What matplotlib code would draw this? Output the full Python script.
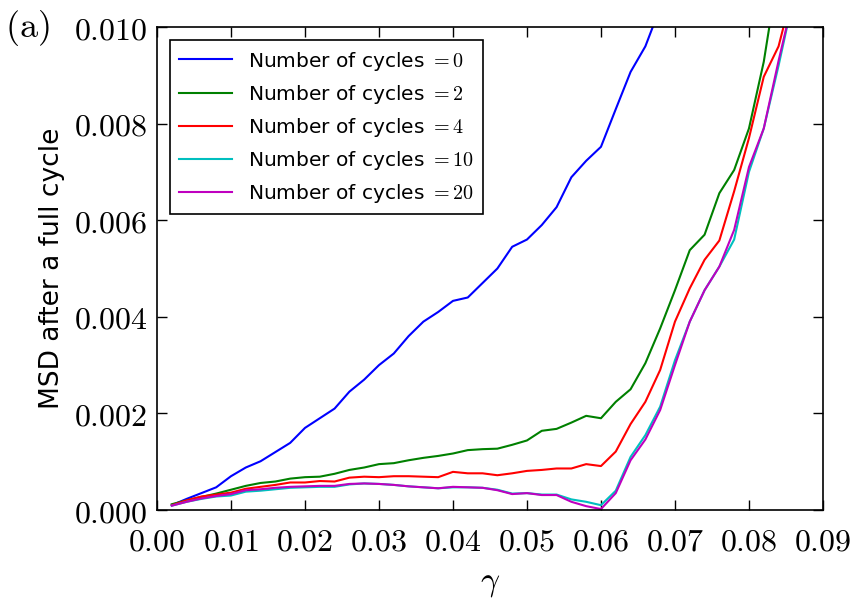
import matplotlib
matplotlib.use('Agg')
import matplotlib.pyplot as plt
import matplotlib.ticker as ticker

plt.rcParams['mathtext.fontset'] = 'cm'

# gamma values (every 0.002 from 0.002)
gamma = [0.002 * k for k in range(1, 44)]

cycles_0 = [0.0001, 0.00023, 0.00035, 0.00047, 0.0007, 0.00088, 0.00101, 0.0012, 0.00139,
            0.0017, 0.0019, 0.0021, 0.00245, 0.0027, 0.0030, 0.00324, 0.0036, 0.0039,
            0.0041, 0.00433, 0.0044, 0.0047, 0.0050, 0.00545, 0.0056, 0.0059, 0.00627,
            0.00689, 0.00723, 0.00752, 0.0083, 0.00907, 0.0096, 0.0104, 0.0112]

cycles_2 = [0.00012, 0.0002, 0.00027, 0.00034, 0.00042, 0.0005, 0.00056, 0.00059, 0.00065,
            0.00068, 0.00069, 0.00075, 0.00083, 0.00088, 0.00095, 0.00097, 0.00103, 0.00108,
            0.00112, 0.00117, 0.00124, 0.00126, 0.00127, 0.00135, 0.00144, 0.00164, 0.00168,
            0.00181, 0.00195, 0.0019, 0.00224, 0.0025, 0.00304, 0.00376, 0.00455, 0.00538,
            0.0057, 0.00656, 0.00704, 0.0079, 0.00928, 0.0112]

cycles_4 = [0.0001, 0.0002, 0.00028, 0.00032, 0.00036, 0.00044, 0.00048, 0.00052, 0.00057,
            0.00057, 0.0006, 0.00059, 0.00067, 0.00069, 0.00068, 0.0007, 0.0007, 0.00069,
            0.00068, 0.00079, 0.00076, 0.00076, 0.00072, 0.00076, 0.00081, 0.00083, 0.00086,
            0.00086, 0.00095, 0.00091, 0.00121, 0.00178, 0.00224, 0.0029, 0.0039, 0.00459,
            0.00518, 0.00558, 0.0066, 0.0077, 0.00897, 0.0096, 0.0108]

cycles_10 = [0.00009, 0.00017, 0.00023, 0.00028, 0.0003, 0.00038, 0.0004, 0.00043, 0.00046,
             0.00047, 0.00048, 0.00048, 0.00053, 0.00055, 0.00054, 0.00052, 0.00049, 0.00047,
             0.00045, 0.00047, 0.00047, 0.00046, 0.00042, 0.00034, 0.00035, 0.00032, 0.00032,
             0.00022, 0.00017, 0.0001, 0.0004, 0.0011, 0.00155, 0.00214, 0.0031, 0.0039,
             0.00455, 0.00504, 0.0056, 0.0070, 0.0079, 0.0092, 0.0106]

cycles_20 = [0.00009, 0.00017, 0.00024, 0.00029, 0.00033, 0.00041, 0.00043, 0.00046, 0.00048,
             0.00049, 0.0005, 0.0005, 0.00054, 0.00055, 0.00054, 0.00052, 0.00049, 0.00047,
             0.00045, 0.00048, 0.00047, 0.00046, 0.00041, 0.00033, 0.00035, 0.00031, 0.00031,
             0.00017, 0.00008, 0.00002, 0.00035, 0.00103, 0.00146, 0.00207, 0.003, 0.0039,
             0.00455, 0.00504, 0.0058, 0.0071, 0.0079, 0.0093, 0.0106]

series = [(cycles_0, 0, 'b'), (cycles_2, 2, 'g'), (cycles_4, 4, 'r'),
          (cycles_10, 10, 'c'), (cycles_20, 20, 'm')]

fig = plt.figure(figsize=(8.56, 6.03), dpi=100)
ax = fig.add_axes([0.1834, 0.1542, 0.778, 0.801])

for vals, n, col in series:
    ax.plot(gamma[:len(vals)], vals, color=col, linewidth=1.5,
            label=r'Number of cycles $= %d$' % n)

ax.set_xlim(0, 0.09)
ax.set_ylim(0, 0.010)
ax.xaxis.set_major_locator(ticker.MultipleLocator(0.01))
ax.yaxis.set_major_locator(ticker.MultipleLocator(0.002))
ax.xaxis.set_major_formatter(ticker.FuncFormatter(lambda v, p: r'$%.2f$' % v))
ax.yaxis.set_major_formatter(ticker.FuncFormatter(lambda v, p: r'$%.3f$' % v))
ax.tick_params(direction='in', top=True, right=True, length=7, width=1,
               labelsize=23)
ax.tick_params(axis='x', pad=12)
ax.tick_params(axis='y', pad=7)
for s in ax.spines.values():
    s.set_linewidth(1.2)

ax.set_xlabel(r'$\gamma$', fontsize=24, labelpad=6)
ax.set_ylabel('MSD after a full cycle', fontsize=19, labelpad=6)

leg = ax.legend(loc='upper left', bbox_to_anchor=(0.005, 0.993), fontsize=14.5,
                fancybox=False, edgecolor='black', framealpha=1,
                handlelength=2.6, borderpad=0.45, labelspacing=0.5)
leg.get_frame().set_linewidth(1.2)

fig.text(0.006, 0.953, r'$\mathrm{(a)}$', fontsize=26, va='center', ha='left')

fig.savefig('out.png', dpi=100)
plt.close(fig)
